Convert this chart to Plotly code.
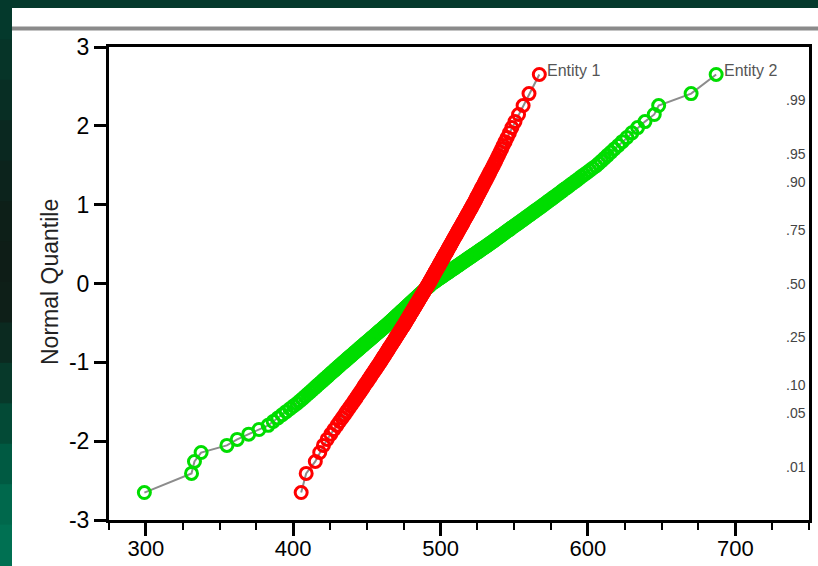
import plotly.graph_objects as go
from statistics import NormalDist

entity1_values = [
    405.4, 408.8, 415.0, 418.0, 420.5, 423.0, 425.5, 427.7, 429.7, 431.5,
    433.2, 434.8, 436.2, 437.6, 438.9, 440.2, 441.3, 442.4, 443.4, 444.4,
    445.4, 446.3, 447.2, 448.0, 448.8, 449.7, 450.5, 451.2, 452.0, 452.7,
    453.4, 454.1, 454.8, 455.5, 456.1, 456.7, 457.4, 458.0, 458.6, 459.2,
    459.7, 460.3, 460.8, 461.3, 461.9, 462.4, 462.9, 463.4, 463.9, 464.4,
    464.8, 465.3, 465.8, 466.3, 466.8, 467.2, 467.7, 468.1, 468.6, 469.0,
    469.4, 469.8, 470.3, 470.7, 471.1, 471.5, 472.0, 472.4, 472.8, 473.2,
    473.6, 474.0, 474.4, 474.8, 475.2, 475.6, 476.0, 476.3, 476.7, 477.0,
    477.4, 477.8, 478.1, 478.5, 478.8, 479.1, 479.5, 479.8, 480.2, 480.5,
    480.9, 481.2, 481.6, 481.9, 482.2, 482.6, 482.9, 483.2, 483.6, 483.9,
    484.2, 484.5, 484.9, 485.2, 485.5, 485.9, 486.2, 486.5, 486.8, 487.2,
    487.5, 487.8, 488.2, 488.5, 488.8, 489.1, 489.4, 489.8, 490.1, 490.4,
    490.7, 491.0, 491.4, 491.7, 492.0, 492.3, 492.6, 492.9, 493.2, 493.5,
    493.8, 494.1, 494.4, 494.7, 495.0, 495.3, 495.6, 495.9, 496.2, 496.5,
    496.8, 497.1, 497.4, 497.8, 498.1, 498.4, 498.7, 499.0, 499.3, 499.6,
    499.9, 500.2, 500.5, 500.9, 501.2, 501.5, 501.8, 502.1, 502.4, 502.7,
    503.1, 503.4, 503.7, 504.1, 504.4, 504.7, 505.0, 505.4, 505.7, 506.0,
    506.4, 506.7, 507.0, 507.4, 507.7, 508.1, 508.4, 508.8, 509.1, 509.5,
    509.9, 510.2, 510.6, 510.9, 511.3, 511.7, 512.0, 512.4, 512.8, 513.2,
    513.6, 514.0, 514.4, 514.8, 515.2, 515.6, 516.0, 516.4, 516.8, 517.3,
    517.7, 518.1, 518.6, 519.0, 519.5, 519.9, 520.4, 520.9, 521.3, 521.8,
    522.3, 522.8, 523.3, 523.8, 524.2, 524.7, 525.3, 525.8, 526.3, 526.9,
    527.5, 528.0, 528.6, 529.3, 529.9, 530.5, 531.2, 531.9, 532.6, 533.3,
    534.1, 534.9, 535.7, 536.6, 537.4, 538.3, 539.3, 540.3, 541.4, 542.5,
    543.8, 545.2, 546.7, 548.4, 550.5, 552.9, 556.0, 560.0, 567.0,
]

entity2_values = [
    299.0, 331.0, 333.0, 337.5, 355.0, 362.0, 369.8, 376.8, 383.0, 386.4,
    389.6, 392.5, 395.2, 397.8, 400.2, 402.5, 404.5, 406.3, 408.0, 409.7,
    411.3, 412.8, 414.3, 415.7, 417.1, 418.5, 419.8, 421.0, 422.3, 423.5,
    424.7, 425.8, 427.0, 428.1, 429.2, 430.2, 431.3, 432.3, 433.3, 434.4,
    435.4, 436.4, 437.3, 438.3, 439.3, 440.2, 441.1, 442.0, 442.9, 443.8,
    444.7, 445.5, 446.4, 447.3, 448.1, 448.9, 449.8, 450.6, 451.4, 452.2,
    453.0, 453.8, 454.6, 455.3, 456.1, 456.9, 457.6, 458.4, 459.1, 459.9,
    460.6, 461.3, 462.1, 462.8, 463.5, 464.2, 464.9, 465.6, 466.2, 466.9,
    467.6, 468.2, 468.8, 469.5, 470.1, 470.7, 471.3, 472.0, 472.6, 473.2,
    473.8, 474.5, 475.1, 475.7, 476.3, 476.9, 477.5, 478.1, 478.7, 479.3,
    479.9, 480.5, 481.1, 481.7, 482.3, 482.9, 483.5, 484.1, 484.7, 485.2,
    485.8, 486.4, 487.0, 487.6, 488.2, 488.8, 489.4, 489.9, 490.5, 491.1,
    491.7, 492.3, 492.8, 493.4, 494.0, 494.8, 495.6, 496.3, 497.1, 497.9,
    498.7, 499.5, 500.2, 501.0, 501.8, 502.6, 503.4, 504.2, 505.0, 505.8,
    506.6, 507.3, 508.1, 509.0, 509.8, 510.5, 511.3, 512.2, 513.0, 513.7,
    514.5, 515.4, 516.2, 517.0, 517.8, 518.6, 519.4, 520.3, 521.1, 521.9,
    522.8, 523.6, 524.5, 525.4, 526.1, 527.0, 527.9, 528.7, 529.6, 530.5,
    531.4, 532.2, 533.1, 534.0, 534.8, 535.7, 536.5, 537.4, 538.3, 539.1,
    540.0, 540.9, 541.8, 542.7, 543.6, 544.5, 545.4, 546.4, 547.3, 548.2,
    549.2, 550.2, 551.1, 552.2, 553.1, 554.2, 555.2, 556.2, 557.3, 558.3,
    559.3, 560.5, 561.5, 562.6, 563.7, 564.9, 566.0, 567.2, 568.4, 569.6,
    570.8, 572.0, 573.2, 574.5, 575.8, 577.1, 578.4, 579.8, 581.2, 582.6,
    584.0, 585.6, 587.1, 588.6, 590.3, 592.0, 593.7, 595.4, 597.3, 599.2,
    601.2, 603.2, 605.4, 607.3, 609.2, 611.2, 613.3, 615.6, 617.9, 620.6,
    623.3, 626.4, 629.8, 633.7, 638.7, 645.0, 648.0, 670.0, 687.0,
]

series_names = ["Entity 1", "Entity 2"]
x_tick_vals = [300, 400, 500, 600, 700]
y_tick_vals = [3, 2, 1, 0, -1, -2, -3]
y_tick_text = ["3", "2", "1", "0", "-1", "-2", "-3"]
prob_levels = [0.01, 0.05, 0.10, 0.25, 0.50, 0.75, 0.90, 0.95, 0.99]
prob_labels = [".01", ".05", ".10", ".25", ".50", ".75", ".90", ".95", ".99"]

# decorative frame colours (left edge, top to bottom)
edge_colors = ["#04392c", "#063428", "#082e24", "#0a2820", "#0c231c", "#0d1f18", "#0e1d17",
               "#0e1f18", "#0b2a20", "#07392a", "#034a36", "#005a42", "#00684c", "#007052"]


def normal_quantiles(values):
    """Theoretical normal quantile for each rank (plotting position i/(n+1))."""
    n = len(values)
    nd = NormalDist()
    return [nd.inv_cdf(i / (n + 1)) for i in range(1, n + 1)]


FONT = "Liberation Sans, Arial, sans-serif"
W, H = 818, 566
L, R, T, B = 109, 9, 47, 46
PW, PH = W - L - R, H - T - B


def px_x(px):
    return (px - L) / PW


def px_y(py):
    return (H - B - py) / PH


fig = go.Figure()

fig.add_trace(go.Scatter(
    x=sorted(entity2_values), y=normal_quantiles(entity2_values),
    mode="lines+markers", name=series_names[1],
    line=dict(color="#8c8c8c", width=2),
    marker=dict(symbol="circle-open", size=12, color="#00dd00", line=dict(width=3, color="#00dd00")),
))
fig.add_trace(go.Scatter(
    x=sorted(entity1_values), y=normal_quantiles(entity1_values),
    mode="lines+markers", name=series_names[0],
    line=dict(color="#8c8c8c", width=2),
    marker=dict(symbol="circle-open", size=12, color="#ff0000", line=dict(width=3, color="#ff0000")),
))

# decorative background: dark green edges, grey rule
shapes = [
    dict(type="rect", xref="paper", yref="paper", layer="below",
         x0=px_x(-5), x1=px_x(W + 5), y0=px_y(8), y1=px_y(-5),
         fillcolor="#05392c", line=dict(width=0)),
    dict(type="line", xref="paper", yref="paper", layer="below",
         x0=px_x(12), x1=px_x(W + 5), y0=px_y(28.5), y1=px_y(28.5),
         line=dict(color="#8a8a8a", width=4)),
]
nb = len(edge_colors)
for k, c in enumerate(edge_colors):
    shapes.append(dict(type="rect", xref="paper", yref="paper", layer="below",
                       x0=px_x(-5), x1=px_x(12), y0=px_y(H * (k + 1) / nb + 1), y1=px_y(H * k / nb - 1),
                       fillcolor=c, line=dict(width=0)))

annotations = []
# y-axis title
annotations.append(dict(text="Normal Quantile", xref="paper", yref="paper",
                        x=px_x(50), y=px_y(282), textangle=-90, showarrow=False,
                        xanchor="center", yanchor="middle",
                        font=dict(family=FONT, size=23, color="#222222")))
# probability scale labels on the right
nd = NormalDist()
for p, lab in zip(prob_levels, prob_labels):
    annotations.append(dict(text=lab, xref="x", yref="y", x=750, y=nd.inv_cdf(p),
                            xanchor="right", yanchor="middle", xshift=-1, showarrow=False,
                            font=dict(family=FONT, size=14, color="#444444")))
# series labels at the top point of each series
for name, vals in zip(series_names, [entity1_values, entity2_values]):
    top_x = max(vals)
    top_y = normal_quantiles(vals)[-1]
    annotations.append(dict(text=name, xref="x", yref="y", x=top_x, y=top_y,
                            xanchor="left", yanchor="middle", xshift=6, yshift=4, showarrow=False,
                            font=dict(family=FONT, size=16, color="#555555")))

fig.update_layout(
    width=W, height=H,
    margin=dict(l=L, r=R, t=T, b=B, pad=0, autoexpand=False),
    paper_bgcolor="white",
    plot_bgcolor="white",
    showlegend=False,
    shapes=shapes,
    annotations=annotations,
    font=dict(family=FONT, color="black"),
)

fig.update_xaxes(
    range=[275, 750], showgrid=False, zeroline=False, automargin=False,
    showline=True, mirror=True, linecolor="black", linewidth=3,
    tickmode="array", tickvals=x_tick_vals, ticktext=[str(v) for v in x_tick_vals],
    ticks="outside", ticklen=13, tickwidth=3, tickcolor="black", ticklabelstandoff=-6,
    minor=dict(ticks="outside", dtick=25, tick0=275, ticklen=7, tickwidth=2, tickcolor="black", showgrid=False),
    tickfont=dict(family=FONT, size=22, color="black"),
)
fig.update_yaxes(
    range=[-3, 3], showgrid=False, zeroline=False, automargin=False,
    showline=True, mirror=True, linecolor="black", linewidth=3,
    tickmode="array", tickvals=y_tick_vals, ticktext=y_tick_text,
    ticks="outside", ticklen=12, tickwidth=3, tickcolor="black",
    tickfont=dict(family=FONT, size=23, color="black"),
)

fig.write_html("out.html")
